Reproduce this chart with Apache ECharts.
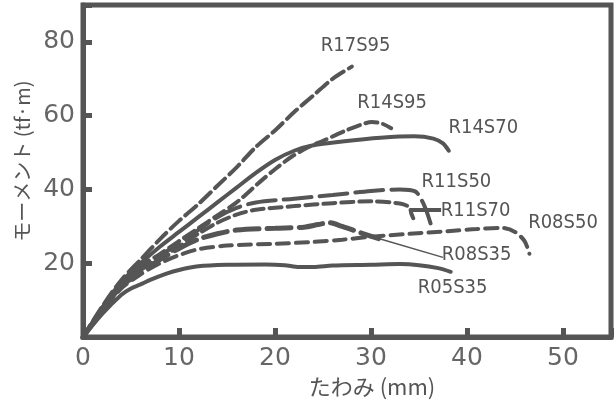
<!DOCTYPE html>
<html>
<head>
<meta charset="utf-8">
<script src="https://cdn.jsdelivr.net/npm/echarts@6/dist/echarts.min.js"></script>
<style>
  html, body { margin: 0; padding: 0; background: #fff; }
  #chart { width: 616px; height: 403px; }
</style>
</head>
<body>
<div id="chart"></div>
<script>
// たわみ (mm) - モーメント (tf·m) 曲線
const R17S95 = [[0,0],[2,8.3],[4,15.5],[6,21],[8,26.5],[10,31.5],[12,36],[14,41],[16,46],[18,51.5],[20,56],[22,61],[24,65.5],[26,70],[28,73.3]]
const R14S95 = [[0,0],[2,7.8],[4,14.6],[6,19.2],[8,22.5],[10,26],[12,29.5],[14,33],[16,36.5],[18.4,42],[20,45.5],[21.8,49],[23.5,51.5],[25,53.2],[27.4,56],[29,57.6],[30.1,58.3],[31.2,57.8],[32.1,56.6]]
const R14S70 = [[0,0],[2,8],[4,15],[6,20],[8,24.5],[10,28.5],[12,32.5],[14,36.5],[16,40.5],[18,44.5],[20,48],[22,50.5],[24,52],[27,53],[31,54],[34.5,54.4],[36.5,53.8],[37.5,52.5],[38.1,50.5]]
const R11S50 = [[0,0],[2,7.6],[4,14.4],[6,18.6],[8,22],[10,25.5],[12,29],[14,32.5],[16,35],[18,36.5],[22,37.5],[26,38.5],[30,39.6],[33,40],[34.6,39.5],[35.3,37],[35.8,34],[36.2,30.8]]
const R11S70 = [[0,0],[2,7.4],[4,14.2],[6,18.2],[8,21.5],[10,24.5],[12,28],[14,31],[16,33.2],[18,34.5],[22,35.5],[26,36.3],[30,36.8],[33,36.2],[34,35.2],[34.2,33.5],[34.4,32.2]]
const R08S50 = [[0,0],[2,7],[4,13.2],[6,17],[8,20],[10,22.2],[12,23.8],[15,24.8],[20,25.3],[24,25.8],[27,26.4],[30,27.2],[34,28],[38,28.7],[41,29.3],[43.6,29.6],[45,28.5],[46,26],[46.5,22.6]]
const R08S35 = [[0,0],[2,7.2],[4,13.8],[6,17.5],[8,21],[10,24],[12,26.5],[14,28],[16,29],[20,29.5],[23,29.8],[24.5,30.5],[25.6,31],[27,30],[29,28.2],[30.8,26.7]]
const R05S35 = [[0,0],[2,6.3],[4,11.5],[5,13.2],[6,14.3],[7,15.5],[8.7,17.2],[10,18.2],[12,19.2],[15,19.6],[19,19.7],[21,19.5],[22.5,19],[24,19],[26,19.4],[30,19.6],[33,19.8],[35,19.5],[37,18.7],[38.3,17.7]]

const xTicks = [0, 10, 20, 30, 40, 50]
const yTicks = [20, 40, 60, 80]

const INK = '#555'

const chart = echarts.init(document.getElementById('chart'))

// 試験体ごとの線種とラベル位置
function curve(name, data, dash, width, labelAt) {
  return {
    name: name,
    type: 'line',
    data: data,
    showSymbol: false,
    smooth: 0.3,
    lineStyle: { color: INK, width: width, type: dash, cap: 'round' },
    markPoint: {
      symbol: 'circle',
      symbolSize: 0,
      silent: true,
      data: [{ coord: labelAt }],
      label: {
        show: true,
        position: 'inside',
        formatter: name,
        color: INK,
        fontSize: 20,
        fontFamily: '"Liberation Sans Narrow", "DejaVu Sans Condensed", "Liberation Sans", sans-serif'
      }
    }
  }
}

const series = [
  curve('R17S95', R17S95, [14, 6], 4, [28.4, 78.9]),
  curve('R14S95', R14S95, [12, 6], 4, [32.2, 63.4]),
  curve('R14S70', R14S70, 'solid', 4, [41.7, 56.6]),
  curve('R11S50', R11S50, [28, 8], 4, [38.9, 42.1]),
  curve('R11S70', R11S70, [12, 6], 4, [40.9, 34.1]),
  curve('R08S50', R08S50, [12, 7], 4, [50.0, 30.9]),
  curve('R08S35', R08S35, [24, 8], 5, [41.0, 22.3]),
  curve('R05S35', R05S35, 'solid', 4, [38.5, 13.4])
]

// 引出し線
series[4].markLine = {
  silent: true, symbol: 'none', label: { show: false },
  lineStyle: { color: INK, width: 4, type: 'solid' },
  data: [[{ coord: [34.1, 34.6] }, { coord: [37.3, 34.6] }]]
}
series[6].markLine = {
  silent: true, symbol: 'none', label: { show: false },
  lineStyle: { color: INK, width: 1.5, type: 'solid' },
  data: [[{ coord: [30.8, 26.7] }, { coord: [37.5, 21.6] }]]
}

const tickFont = { color: '#666', fontSize: 25, fontFamily: '"DejaVu Sans", sans-serif' }

chart.setOption({
  animation: false,
  backgroundColor: '#fff',
  grid: {
    left: 83, right: 5, top: 5, bottom: 63,
    show: true, borderColor: INK, borderWidth: 5
  },
  xAxis: {
    type: 'value',
    min: 0, max: 55, interval: 10,
    name: 'たわみ (mm)',
    nameLocation: 'middle',
    nameGap: 37,
    nameTextStyle: { color: INK, fontSize: 22, fontFamily: '"Noto Sans CJK JP", sans-serif', padding: [0, 0, 0, 50] },
    axisLine: { lineStyle: { color: INK, width: 5 } },
    axisTick: { inside: true, length: 9, lineStyle: { color: INK, width: 5 } },
    splitLine: { show: false },
    axisLabel: Object.assign({
      margin: 9,
      formatter: v => xTicks.includes(v) ? String(v) : ''
    }, tickFont)
  },
  yAxis: {
    type: 'value',
    min: 0, max: 90, interval: 20,
    name: 'モーメント (tf·m)',
    nameLocation: 'middle',
    nameGap: 50,
    nameTextStyle: { color: INK, fontSize: 20, fontFamily: '"Noto Sans CJK JP", sans-serif', padding: [0, 0, 0, 20] },
    axisLine: { lineStyle: { color: INK, width: 5 } },
    axisTick: { inside: true, length: 9, lineStyle: { color: INK, width: 5 } },
    splitLine: { show: false },
    axisLabel: Object.assign({
      margin: 8,
      formatter: v => yTicks.includes(v) ? String(v) : ''
    }, tickFont)
  },
  series: series
})
</script>
</body>
</html>
